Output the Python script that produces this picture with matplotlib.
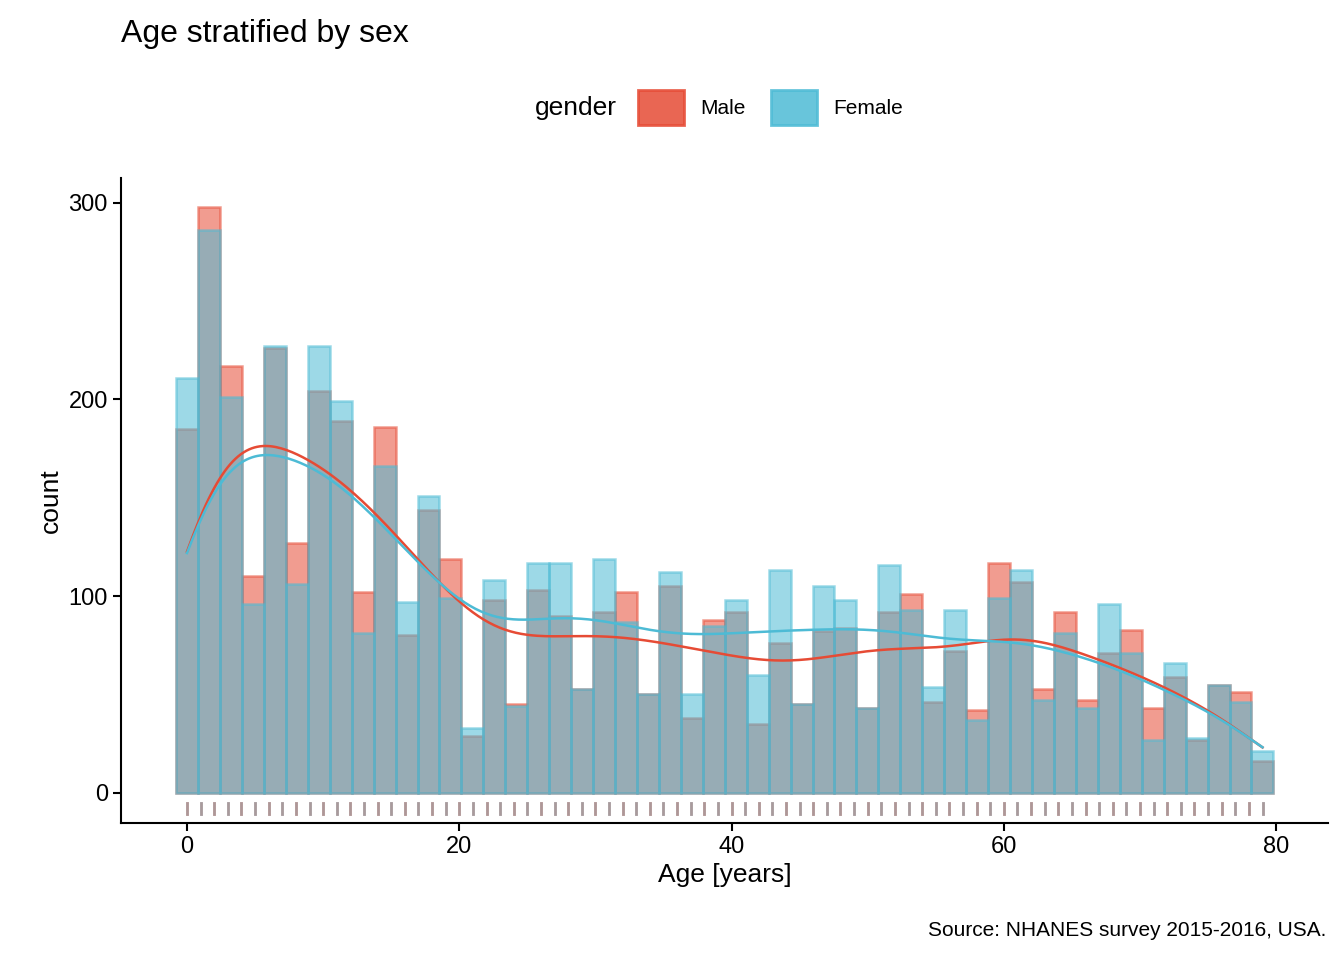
import numpy as np
import matplotlib.pyplot as plt
from matplotlib.patches import Patch

plt.rcParams['font.family'] = ['Liberation Sans', 'DejaVu Sans']

# histogram counts per bin (50 bins)
male = [185, 298, 217, 110, 226, 127, 204, 189, 102, 186,
        80, 144, 119, 29, 98, 45, 103, 90, 53, 92,
        102, 50, 105, 38, 88, 92, 35, 76, 45, 82,
        84, 43, 92, 101, 46, 72, 42, 117, 107, 53,
        92, 47, 71, 83, 43, 59, 27, 55, 51, 16]
female = [211, 286, 201, 96, 227, 106, 227, 199, 81, 166,
          97, 151, 99, 33, 108, 44, 117, 117, 53, 119,
          87, 50, 112, 50, 85, 98, 60, 113, 45, 105,
          98, 43, 116, 93, 54, 93, 37, 99, 113, 47,
          81, 43, 96, 71, 27, 66, 28, 55, 46, 21]
edges = np.linspace(-0.8, 79.8, 51)
rug_ages = np.arange(0, 80)

red = '#E64B35'
blue = '#4DBBD5'

fig = plt.figure(figsize=(13.44, 9.6), dpi=100)
ax = fig.add_axes([0.09, 0.143, 0.898, 0.672])

width = np.diff(edges)
centers = edges[:-1] + width / 2
for counts, col in ((male, red), (female, blue)):
    ax.bar(edges[:-1], counts, width=width, align='edge', color=col, alpha=0.55,
           edgecolor=col, linewidth=1.8)

# density curves scaled to counts
xs = np.linspace(0, 79, 400)
bw = 4.0
for counts, col in ((male, red), (female, blue)):
    c = np.array(counts, float)
    dens = (c[:, None] * np.exp(-0.5 * ((xs[None, :] - centers[:, None]) / bw) ** 2)).sum(0)
    dens /= (c.sum() * bw * np.sqrt(2 * np.pi))
    ax.plot(xs, dens * c.sum() * width[0], color=col, lw=1.8)

# rug
for i, a in enumerate(rug_ages):
    ax.plot([a, a], [-5, -11], color=red if i % 2 == 0 else blue, lw=2, alpha=0.7)
    ax.plot([a, a], [-5, -11], color=blue if i % 2 == 0 else red, lw=2, alpha=0.4)

ax.set_xlim(-4.85, 83.8)
ax.set_ylim(-15.2, 312.7)
ax.set_xticks([0, 20, 40, 60, 80])
ax.set_yticks([0, 100, 200, 300])
ax.spines['top'].set_visible(False)
ax.spines['right'].set_visible(False)
ax.spines['left'].set_linewidth(1.5)
ax.spines['bottom'].set_linewidth(1.5)
ax.tick_params(labelsize=17, width=1.5, length=6)
ax.set_xlabel('Age [years]', fontsize=19)
ax.set_ylabel('count', fontsize=19)

fig.text(0.09, 0.965, 'Age stratified by sex', fontsize=23, va='center')
fig.text(0.987, 0.031, 'Source: NHANES survey 2015-2016, USA.', fontsize=15, ha='right', va='center')

handles = [Patch(facecolor=red, edgecolor=red, alpha=0.85, lw=2),
           Patch(facecolor=blue, edgecolor=blue, alpha=0.85, lw=2)]
leg = fig.legend(handles, ['Male', 'Female'], loc='center', bbox_to_anchor=(0.535, 0.888),
                 ncol=2, frameon=False, fontsize=15, title='gender', title_fontsize=19,
                 handlelength=2.2, handleheight=2.2, columnspacing=1.2)
leg._legend_box.align = 'left'
leg.get_title().set_position((0, 0))
# put title inline with entries
from matplotlib.offsetbox import HPacker
box = leg._legend_box
box._children = [HPacker(children=box._children[::-1][::-1], align='center', pad=0, sep=15)]

fig.savefig('out.png', dpi=100)
